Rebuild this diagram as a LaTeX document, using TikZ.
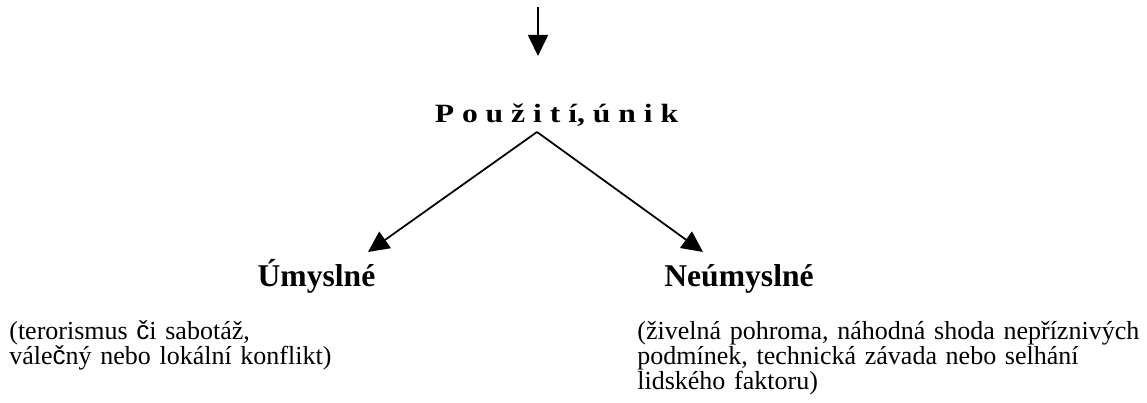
\documentclass[tikz,border=0pt]{standalone}
\usepackage{fontspec}
\setmainfont{Liberation Serif}
\newfontfamily\czsans{Liberation Sans}
\newfontfamily\widebf[FakeStretch=1.2]{Liberation Serif}
\usetikzlibrary{arrows.meta}

\tikzset{
  arr/.style={line width=1pt, -{Triangle[width=0.4cm,length=0.42cm]}},
  branch/.style={font=\fontsize{18}{21}\selectfont\bfseries, inner sep=0pt, anchor=base},
  note/.style={font=\fontsize{14.8}{14.2}\selectfont, align=left, inner sep=0pt,
    anchor=base west, text width=#1},
}

\begin{document}
\begin{tikzpicture}
  \useasboundingbox (0,0) rectangle (22.94,8.06);
  % incoming arrow and the split
  \coordinate (src) at (10.76,7.92);
  \coordinate (srcend) at (10.76,6.94);
  \node[anchor=base, inner sep=0pt, font=\widebf\fontsize{15}{18}\selectfont\bfseries] (use) at (11.13,5.60) {P o u ž i t í, ú n i k};
  \coordinate (fork) at (10.74,5.42);
  \coordinate (lefttip) at (7.36,3.02);
  \coordinate (righttip) at (14.06,3.02);
  % the two branches
  \node[branch] (intent) at (6.33,2.32) {Úmyslné};
  \node[branch] (accid) at (14.78,2.32) {Neúmyslné};
  \node[note=9cm] (intentnote) at (0.18,1.26) {(terorismus {\czsans č}i sabotáž,\\vále{\czsans č}ný nebo lokální konflikt)};
  \node[note=12cm] (accidnote) at (12.74,1.26) {(živelná pohroma, náhodná shoda nepříznivých\\podmínek, technická závada nebo selhání\\lidského faktoru)};
  \draw[arr] (src) -- (srcend);
  \draw[arr] (fork) -- (lefttip);
  \draw[arr] (fork) -- (righttip);
\end{tikzpicture}
\end{document}
